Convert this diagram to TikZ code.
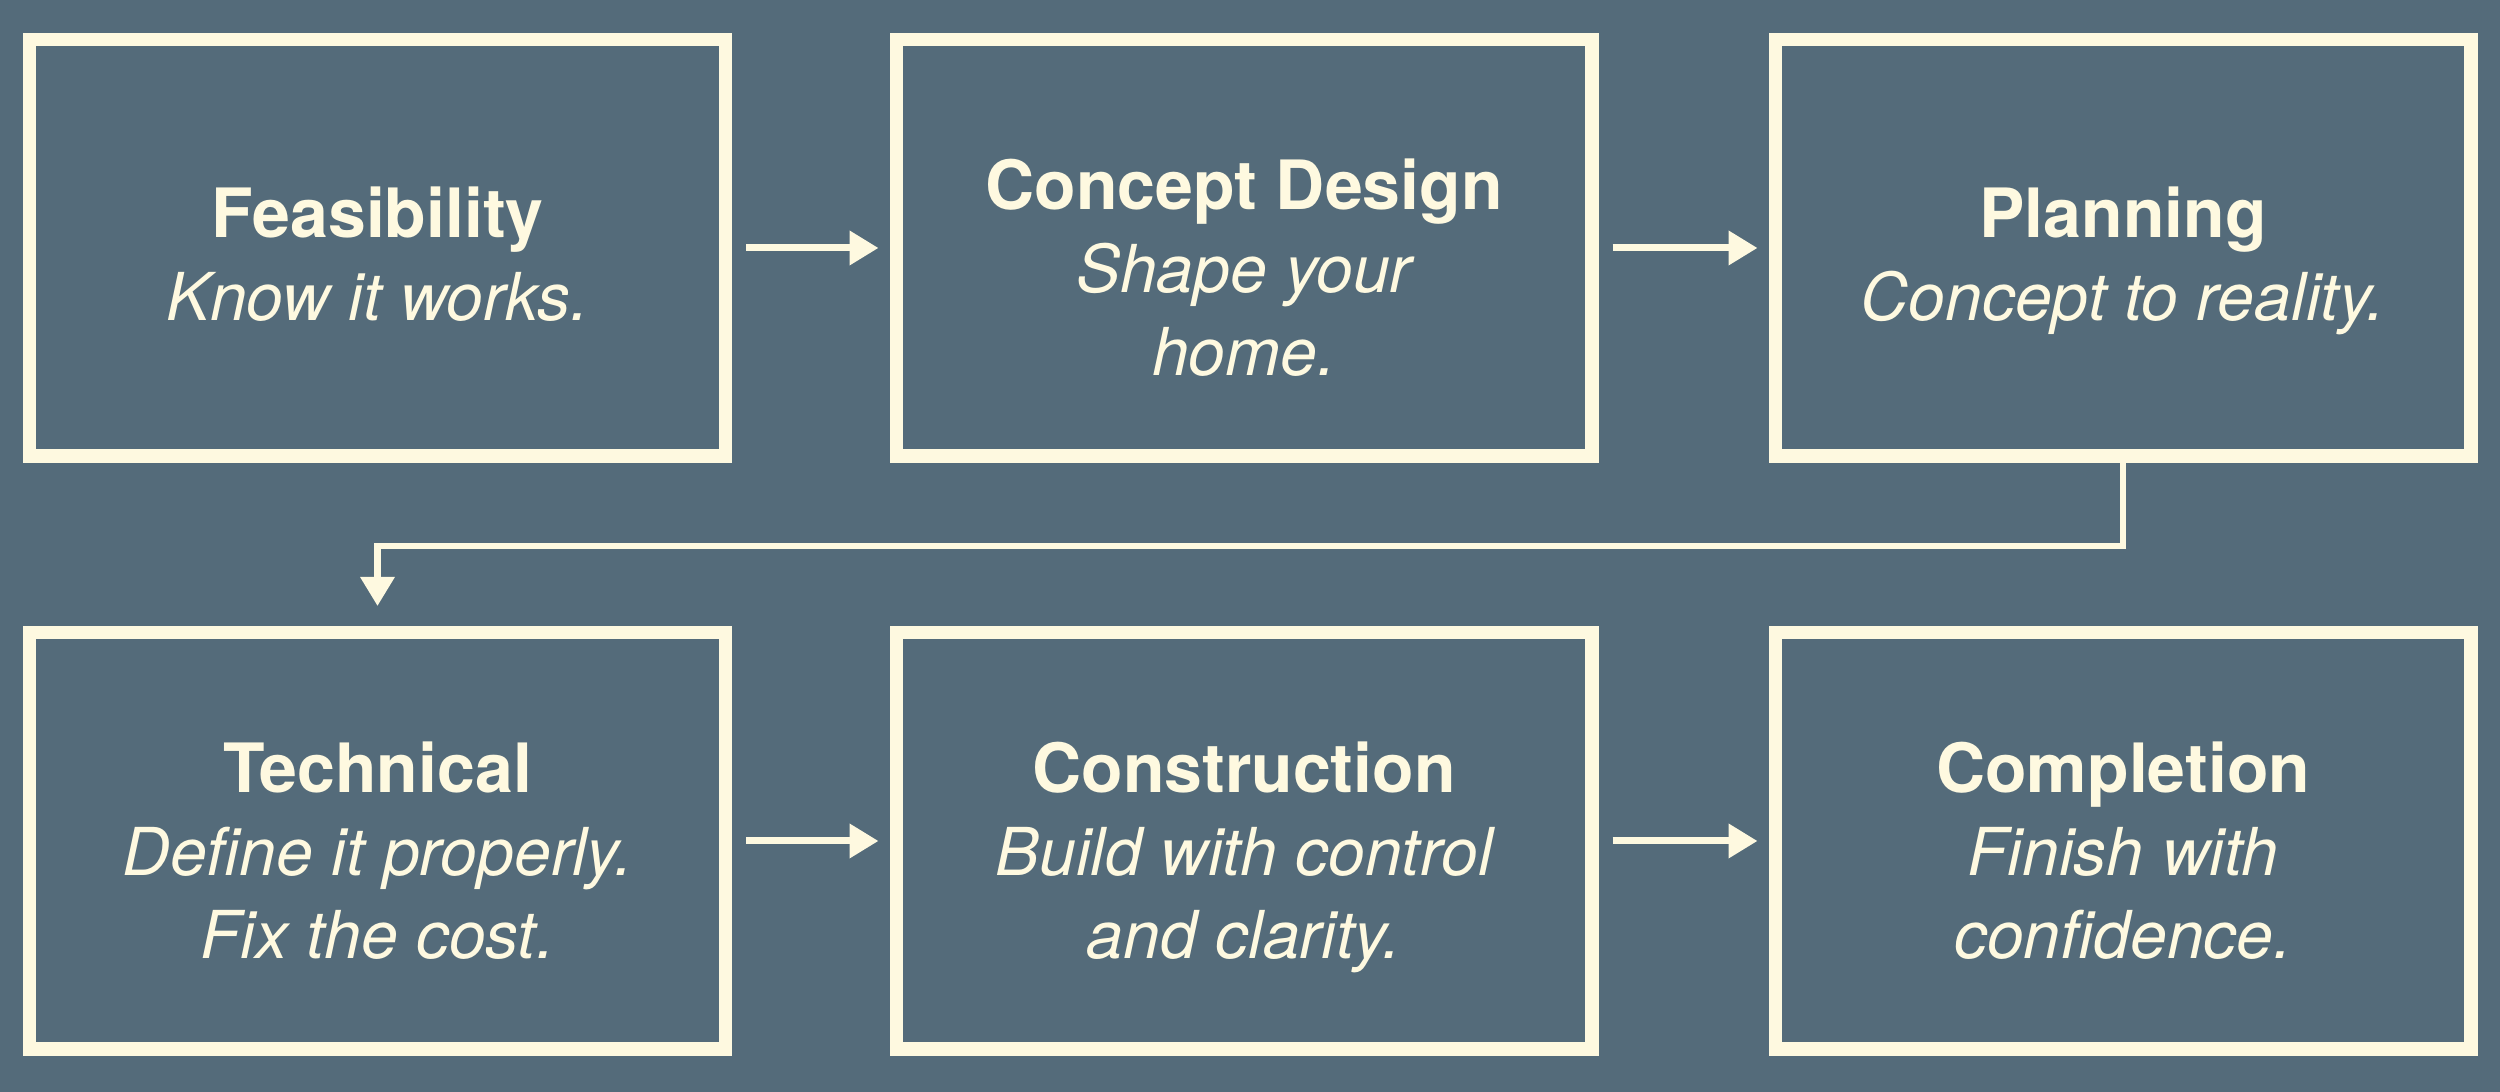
\documentclass[tikz,border=0pt]{standalone}
\usepackage{fontspec}
\setmainfont{TeX Gyre Heros}
\usetikzlibrary{arrows.meta,positioning}
\definecolor{slate}{RGB}{84,107,122}
\definecolor{cream}{RGB}{254,249,224}
\tikzstyle{stage} = [draw=cream,line width=1.35mm,rectangle,inner sep=0,minimum width=6.955cm,minimum height=4.165cm]
\tikzstyle{caption} = [anchor=north,inner sep=0,align=center,text=cream,font=\fontsize{18.8pt}{23.6pt}\selectfont\itshape]
\tikzstyle{flow} = [-{Triangle[length=2.9mm,width=3.3mm]},draw=cream,line width=0.7mm,shorten <=1.4mm,shorten >=1.1mm]
\newcommand{\stitle}[1]{{\fontsize{19.35pt}{23.6pt}\selectfont\upshape\bfseries #1}}

\begin{document}
\begin{tikzpicture}
      \fill[slate] (0,0) rectangle (25,10.92);
      % top row
      \node[stage] (feas) at (3.775,8.44) {};
      \node[stage] (concept) at (12.44,8.44) {};
      \node[stage] (plan) at (21.23,8.44) {};
      \node[caption] (feas-t) at ([yshift=6.2mm]feas.center) {\stitle{Feasibility}\\Know it works.};
      \node[caption] (concept-t) at ([yshift=9mm]concept.center) {\stitle{Concept Design}\\Shape your\\home.};
      \node[caption] (plan-t) at ([yshift=6.2mm]plan.center) {\stitle{Planning}\\Concept to reality.};
      % bottom row
      \node[stage] (tech) at (3.775,2.51) {};
      \node[stage] (build) at (12.44,2.51) {};
      \node[stage] (done) at (21.23,2.51) {};
      \node[caption] (tech-t) at ([yshift=10mm]tech.center) {\stitle{Technical}\\Define it properly.\\Fix the cost.};
      \node[caption] (build-t) at ([yshift=10mm]build.center) {\stitle{Construction}\\Build with control\\and clarity.};
      \node[caption] (done-t) at ([yshift=10mm]done.center) {\stitle{Completion}\\Finish with\\confidence.};
      \draw[flow] (feas) -- (concept);
      \draw[flow] (concept) -- (plan);
      \draw[flow] (tech) -- (build);
      \draw[flow] (build) -- (done);
      \coordinate (bend) at ([yshift=-0.83cm]plan.south);
      \draw[flow,line width=0.65mm,shorten <=0mm,shorten >=2mm] (plan.south) -- (bend) -| (tech.north);
    \end{tikzpicture}
\end{document}
